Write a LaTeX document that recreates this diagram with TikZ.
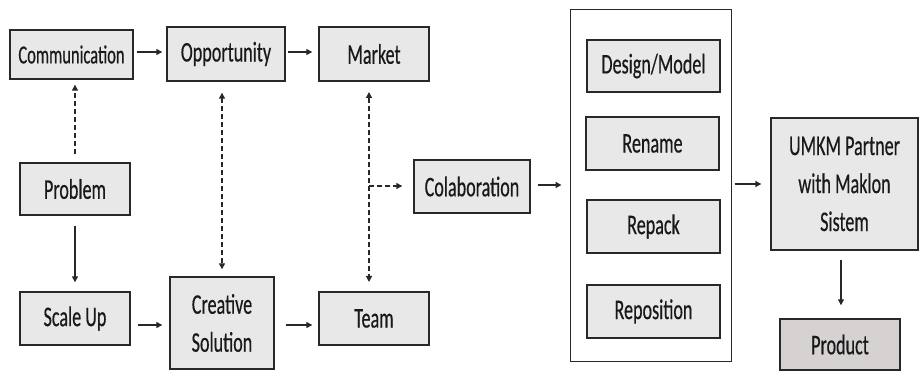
\documentclass[tikz,border=0pt]{standalone}
\usepackage{fontspec}
\setmainfont{Carlito}[FakeStretch=0.635, FakeBold=0.4]
\usetikzlibrary{arrows.meta}
\definecolor{boxfill}{RGB}{232,232,232}
\definecolor{prodfill}{RGB}{214,210,210}
\definecolor{edge}{RGB}{40,40,40}
\definecolor{ink}{RGB}{25,25,25}
\tikzset{
  box/.style={draw=edge, line width=1.4pt, fill=boxfill, text=ink, align=center,
    inner sep=0pt, font=\fontsize{28.5}{38}\selectfont},
  frame/.style={draw=edge, line width=1pt, fill=white},
  link/.style={draw=edge, line width=1.3pt, -{Triangle[length=6pt,width=6pt]}},
  dlink/.style={link, dash pattern=on 5pt off 3pt},
  ddlink/.style={dlink, {Triangle[length=6pt,width=6pt]}-{Triangle[length=6pt,width=6pt]}}
}
\begin{document}
\begin{tikzpicture}[x=1pt, y=-1pt]
\useasboundingbox (0,0) rectangle (919,371);

% left part of the flow
\node[box, font=\fontsize{26}{38}\selectfont, minimum width=123pt, minimum height=49pt] (comm) at (71.5,54.5) {Communication};
\node[box, minimum width=118pt, minimum height=54pt] (opp) at (226,54) {Opportunity};
\node[box, minimum width=110pt, minimum height=54pt] (market) at (374,54) {Market};
\node[box, minimum width=110pt, minimum height=52pt] (prob) at (75,189) {Problem};
\node[box, minimum width=110pt, minimum height=53pt] (scale) at (75,318.5) {Scale Up};
\node[box, minimum width=104pt, minimum height=92pt] (creat) at (222,323) {Creative\\Solution};
\node[box, minimum width=110pt, minimum height=53pt] (team) at (374,318.5) {Team};
\node[box, minimum width=116pt, minimum height=53pt] (colab) at (472,186.5) {Colaboration};

% the four strategies in one frame
\node[frame, minimum width=161pt, minimum height=352pt] (group) at (650.5,186) {};
\node[box, minimum width=133pt, minimum height=52pt] (design) at (653.5,66) {Design/Model};
\node[box, minimum width=133pt, minimum height=53pt] (rename) at (652.5,143.5) {Rename};
\node[box, minimum width=133pt, minimum height=53pt] (repack) at (653.5,226.5) {Repack};
\node[box, minimum width=133pt, minimum height=53pt] (repos) at (653.5,311.5) {Reposition};

% partner and result
\node[box, minimum width=147pt, minimum height=132pt] (umkm) at (844.5,184) {UMKM Partner\\with Maklon\\Sistem};
\node[box, fill=prodfill, minimum width=120pt, minimum height=51pt] (prod) at (840,344.5) {Product};

% solid connectors
\draw[link, shorten <=3pt, shorten >=4pt] (comm.east |- 0,52) -- (opp.west |- 0,52);
\draw[link, shorten <=2pt, shorten >=6pt] (opp.east |- 0,52) -- (market.west |- 0,52);
\draw[link, shorten <=10pt, shorten >=9pt] (prob.south) -- (scale.north);
\draw[link, shorten <=7pt, shorten >=7pt] (scale.east |- 0,325) -- (creat.west |- 0,325);
\draw[link, shorten <=11pt, shorten >=6pt] (creat.east |- 0,325) -- (team.west |- 0,325);
\draw[link, shorten <=7pt, shorten >=8pt] (colab.east |- 0,185) -- (group.west |- 0,185);
\draw[link, shorten <=3pt, shorten >=9pt] (group.east |- 0,184) -- (umkm.west |- 0,184);
\draw[link, shorten <=9pt, shorten >=13pt] (umkm.south -| 841,0) -- (prod.north -| 841,0);

% dashed connectors
\draw[dlink, shorten <=8pt, shorten >=5pt] (prob.north) -- (prob.north |- comm.south);
\draw[ddlink, shorten <=11pt, shorten >=7pt] (opp.south -| creat.north) -- (creat.north);
\coordinate (mt) at (369,81);
\coordinate (tm) at (369,292);
\coordinate (fork) at (369,186);
\draw[ddlink, shorten <=11pt, shorten >=10pt] (mt) -- (tm);
\draw[dlink, shorten >=11pt] (fork) -- (colab.west |- fork);
\end{tikzpicture}
\end{document}
